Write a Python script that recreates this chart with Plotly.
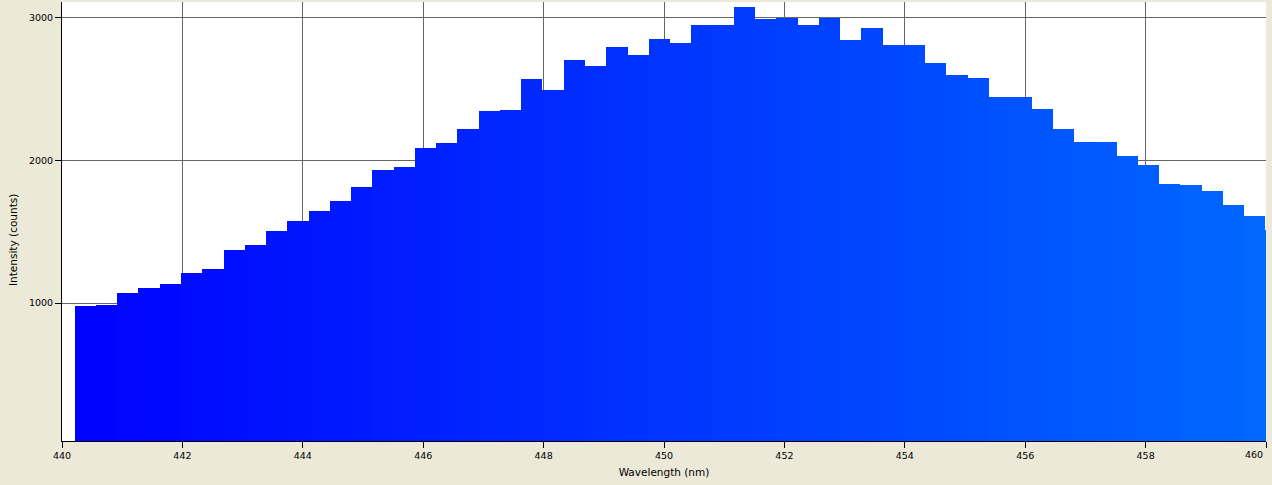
import plotly.graph_objects as go

# Data
bin_start = 440.211   # nm, left edge of first bin
bin_width = 0.3532    # nm
intensity = [981, 990, 1072, 1107, 1135, 1212, 1240, 1373, 1408, 1506,
             1576, 1646, 1716, 1814, 1932, 1953, 2086, 2121, 2219, 2344,
             2351, 2568, 2491, 2701, 2659, 2792, 2736, 2848, 2820, 2946,
             2946, 3072, 2988, 2997, 2946, 2997, 2841, 2925, 2809, 2809,
             2680, 2596, 2575, 2442, 2442, 2358, 2219, 2128, 2128, 2030,
             1967, 1834, 1827, 1785, 1687, 1610, 1510]
wavelength = [bin_start + (i + 0.5) * bin_width for i in range(len(intensity))]

x_ticks = [440, 442, 444, 446, 448, 450, 452, 454, 456, 458, 460]
y_ticks = [1000, 2000, 3000]
x_title = "Wavelength (nm)"
y_title = "Intensity (counts)"

fig = go.Figure(go.Bar(
    x=wavelength,
    y=intensity,
    width=bin_width,
    marker=dict(
        color=wavelength,
        colorscale=[[0, "rgb(0,0,255)"], [1, "rgb(0,104,255)"]],
        cmin=440, cmax=460,
        line=dict(width=0),
    ),
    hovertemplate="%{x:.2f} nm<br>%{y} counts<extra></extra>",
))

font_family = "DejaVu Sans"
# last tick label is drawn as an annotation so it can sit inside the page edge
tick_text = [str(v) for v in x_ticks[:-1]] + [""]

fig.update_layout(
    width=1272, height=485,
    margin=dict(l=62, r=6, t=2, b=44, autoexpand=False),
    paper_bgcolor="#ECE9D8",
    plot_bgcolor="#FFFFFF",
    bargap=0,
    showlegend=False,
    font=dict(family=font_family, size=10, color="#000000"),
    xaxis=dict(
        range=[440, 460],
        tickvals=x_ticks,
        ticktext=tick_text,
        ticks="outside", ticklen=6, tickcolor="#000000", tickwidth=1,
        showline=True, linecolor="#000000", linewidth=1,
        showgrid=True, gridcolor="#666666", gridwidth=1,
        zeroline=False, automargin=False,
        tickfont=dict(size=9.5, family=font_family),
        title=dict(text=x_title, font=dict(size=10.5, family=font_family), standoff=8),
    ),
    yaxis=dict(
        range=[35, 3107],
        tickvals=y_ticks,
        ticktext=[str(v) for v in y_ticks],
        ticks="outside", ticklen=6, tickcolor="#000000", tickwidth=1,
        showline=True, linecolor="#000000", linewidth=1,
        showgrid=True, gridcolor="#666666", gridwidth=1,
        zeroline=False, automargin=False,
        tickfont=dict(size=9.5, family=font_family),
    ),
    annotations=[
        dict(
            text=str(x_ticks[-1]), x=x_ticks[-1], xref="x", y=0, yref="paper",
            xanchor="right", yanchor="top", xshift=-1, yshift=-6,
            showarrow=False, font=dict(size=9.5, family=font_family),
        ),
        dict(
            text=y_title, x=-(62 - 13) / 1204, xref="paper",
            y=(441 - 240) / 439, yref="paper",
            xanchor="center", yanchor="middle", textangle=-90,
            showarrow=False, font=dict(size=10.5, family=font_family),
        ),
    ],
)

fig.write_html(
    "out.html",
    config={"displayModeBar": False},
    post_script="document.body.style.margin='0';document.body.style.padding='0';",
)
